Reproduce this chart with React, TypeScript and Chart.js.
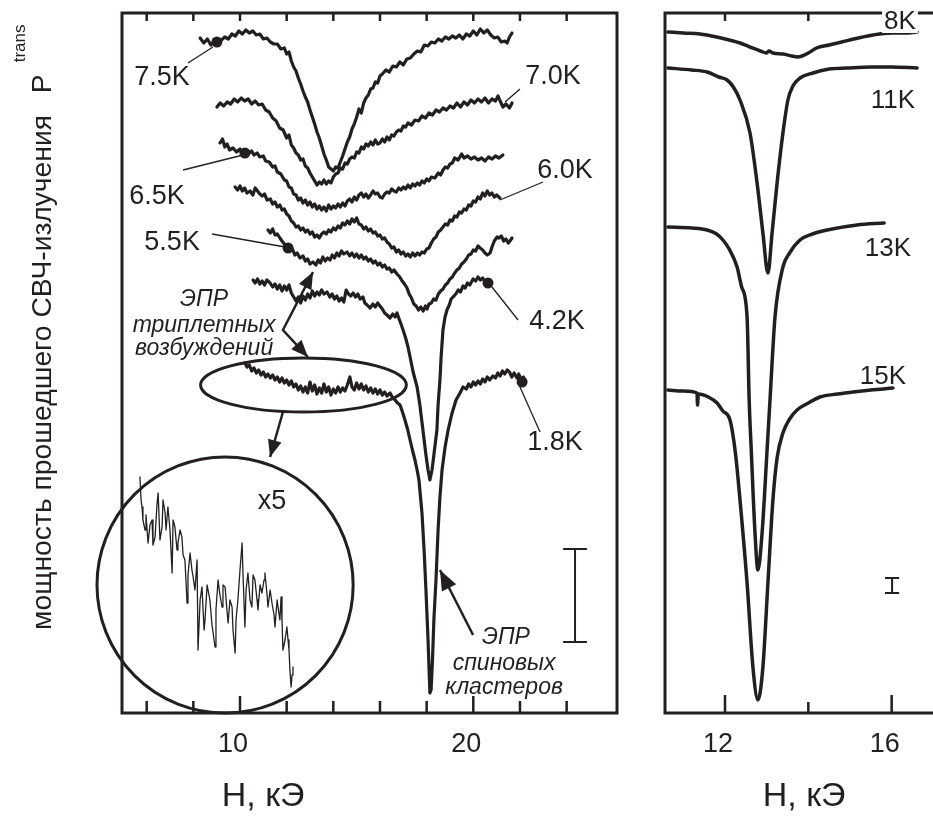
import React, { useEffect, useRef } from "react";
import { Chart, registerables } from "chart.js";
Chart.register(...registerables);

const FONT = '"Liberation Sans", Arial, Helvetica, sans-serif';
const INK = "#231f20";

// ---------- left panel: field H (kOe) vs transmitted power (arb. units) ----------
const T75 = [[8.29,67.5],[8.45,67.0],[8.6,67.4],[8.75,66.8],[8.9,67.2],[9.05,66.9],[9.2,67.3],[9.35,67.6],[9.5,67.4],[9.65,67.9],[9.8,67.7],[9.95,68.2],[10.1,67.9],[10.25,68.3],[10.4,68.0],[10.55,68.2],[10.7,67.8],[10.85,67.9],[11.0,67.4],[11.15,67.5],[11.3,67.1],[11.45,66.9],[11.6,66.9],[11.75,66.4],[11.9,66.5],[12.0,65.9],[12.1,66.1],[12.2,65.2],[12.3,64.6],[12.4,64.2],[12.5,63.5],[12.6,62.9],[12.7,62.2],[12.8,61.6],[12.9,61.1],[13.0,60.3],[13.1,59.6],[13.2,58.9],[13.3,58.1],[13.4,57.5],[13.5,56.7],[13.6,55.9],[13.7,55.3],[13.8,54.6],[13.9,54.4],[14.0,54.2],[14.1,54.6],[14.2,54.5],[14.3,55.1],[14.4,55.7],[14.5,56.4],[14.6,57.1],[14.7,57.6],[14.8,58.4],[14.9,58.9],[15.0,59.6],[15.1,60.4],[15.2,60.0],[15.3,61.0],[15.4,61.5],[15.5,61.8],[15.6,62.4],[15.7,62.5],[15.8,63.1],[15.9,63.0],[16.0,63.7],[16.1,63.9],[16.25,64.3],[16.4,64.1],[16.55,64.7],[16.7,64.6],[16.85,65.1],[17.0,64.8],[17.15,65.4],[17.3,65.5],[17.45,65.9],[17.6,66.2],[17.75,66.1],[17.9,66.8],[18.05,66.7],[18.2,67.1],[18.35,67.0],[18.5,67.4],[18.65,67.2],[18.8,67.6],[18.95,67.4],[19.1,67.7],[19.25,67.5],[19.4,67.8],[19.55,67.4],[19.7,67.9],[19.85,67.7],[20.0,68.2],[20.15,67.8],[20.3,68.4],[20.45,68.0],[20.6,68.3],[20.75,67.8],[20.9,67.5],[21.05,67.6],[21.2,67.1],[21.35,67.2],[21.45,67.0],[21.55,67.6],[21.66,68.0]];

const T70 = [[9.01,60.6],[9.15,61.0],[9.3,60.7],[9.45,61.1],[9.6,60.9],[9.75,61.4],[9.9,61.1],[10.05,61.5],[10.2,61.2],[10.35,61.4],[10.5,60.9],[10.65,61.2],[10.8,60.8],[10.95,60.9],[11.1,60.3],[11.25,60.1],[11.4,59.5],[11.55,59.2],[11.7,58.5],[11.85,58.3],[12.0,57.5],[12.1,57.8],[12.2,56.8],[12.3,56.5],[12.4,56.0],[12.5,55.8],[12.6,55.3],[12.7,55.4],[12.8,54.7],[12.9,54.5],[13.0,54.0],[13.1,53.6],[13.2,53.2],[13.3,52.8],[13.4,53.1],[13.5,52.9],[13.6,53.3],[13.7,52.9],[13.8,53.2],[13.9,53.0],[14.0,53.6],[14.1,53.9],[14.2,54.0],[14.3,54.5],[14.4,54.4],[14.5,55.0],[14.6,54.9],[14.7,55.4],[14.8,55.6],[14.9,55.5],[15.0,56.1],[15.1,56.0],[15.2,56.6],[15.3,56.4],[15.4,56.9],[15.5,56.7],[15.6,57.1],[15.7,56.8],[15.8,57.3],[15.9,56.9],[16.0,57.0],[16.1,57.4],[16.2,57.1],[16.3,57.6],[16.4,57.3],[16.5,57.8],[16.6,57.7],[16.7,58.1],[16.8,58.3],[16.9,58.2],[17.0,58.7],[17.1,58.6],[17.2,59.0],[17.35,58.8],[17.5,59.3],[17.65,59.2],[17.8,59.7],[17.95,59.5],[18.1,60.0],[18.25,59.8],[18.4,60.3],[18.55,60.1],[18.7,60.5],[18.85,60.3],[19.0,60.7],[19.15,60.5],[19.3,61.0],[19.45,60.6],[19.6,61.1],[19.75,60.8],[19.9,61.3],[20.05,61.0],[20.2,61.4],[20.35,61.1],[20.5,61.5],[20.65,61.0],[20.8,61.4],[20.95,61.2],[21.06,61.7],[21.15,61.2],[21.27,60.6],[21.4,60.9],[21.55,60.5],[21.66,61.0]];

const T65 = [[9.14,57.0],[9.25,57.4],[9.35,56.6],[9.45,56.9],[9.55,56.3],[9.7,56.5],[9.85,56.1],[10.0,56.4],[10.1,55.8],[10.21,56.2],[10.35,55.9],[10.5,56.2],[10.6,55.8],[10.73,56.0],[10.85,55.6],[11.0,55.7],[11.1,55.2],[11.25,55.1],[11.4,54.6],[11.5,54.7],[11.6,54.1],[11.75,53.9],[11.9,53.3],[12.0,53.2],[12.1,52.6],[12.2,52.5],[12.3,51.9],[12.4,51.8],[12.5,51.3],[12.6,51.5],[12.7,51.0],[12.8,51.3],[12.9,50.8],[13.0,51.1],[13.1,50.6],[13.2,50.9],[13.3,50.4],[13.4,50.7],[13.5,50.3],[13.6,50.6],[13.7,50.2],[13.8,50.8],[13.9,50.4],[14.0,50.7],[14.1,50.5],[14.2,50.9],[14.3,50.6],[14.4,51.0],[14.5,50.7],[14.6,51.2],[14.7,51.4],[14.8,51.1],[14.9,51.6],[15.0,51.3],[15.1,51.8],[15.2,52.0],[15.3,51.6],[15.4,51.9],[15.5,51.5],[15.6,51.8],[15.7,52.2],[15.8,51.9],[15.9,52.0],[16.0,51.6],[16.1,51.5],[16.2,51.9],[16.3,52.1],[16.4,52.0],[16.5,52.4],[16.6,52.2],[16.7,52.1],[16.8,52.5],[16.9,52.3],[17.0,52.6],[17.1,52.4],[17.2,52.8],[17.3,52.5],[17.4,52.9],[17.5,52.7],[17.6,53.0],[17.7,52.8],[17.8,53.2],[17.9,53.0],[18.0,53.4],[18.1,53.2],[18.2,53.6],[18.35,53.5],[18.5,54.0],[18.6,53.8],[18.7,54.3],[18.8,54.6],[18.9,54.5],[19.0,54.9],[19.1,55.0],[19.2,55.5],[19.35,55.3],[19.5,55.9],[19.6,55.5],[19.75,55.7],[19.9,55.4],[20.05,55.6],[20.2,55.3],[20.35,55.5],[20.5,55.2],[20.65,55.6],[20.8,55.4],[20.95,55.7],[21.1,55.5],[21.27,55.8]];

const T60 = [[9.79,52.6],[9.9,52.3],[10.0,52.7],[10.1,52.2],[10.2,52.5],[10.3,52.0],[10.43,52.2],[10.55,51.8],[10.65,52.5],[10.75,52.2],[10.85,51.9],[10.95,51.7],[11.05,51.9],[11.16,51.3],[11.3,51.4],[11.4,50.9],[11.5,51.1],[11.6,50.6],[11.71,50.8],[11.8,50.3],[11.9,50.4],[12.0,49.9],[12.1,49.7],[12.2,49.2],[12.3,49.0],[12.4,48.6],[12.5,48.7],[12.6,48.3],[12.7,48.5],[12.8,48.1],[12.9,48.3],[13.0,47.9],[13.1,48.1],[13.2,47.6],[13.3,47.8],[13.4,47.5],[13.5,47.9],[13.6,48.1],[13.7,47.9],[13.8,48.3],[13.9,48.1],[14.0,48.5],[14.1,48.3],[14.2,48.7],[14.3,48.5],[14.4,49.0],[14.5,48.8],[14.6,49.2],[14.7,48.9],[14.8,49.4],[14.9,49.1],[15.0,49.5],[15.1,48.9],[15.2,48.8],[15.3,48.4],[15.4,48.6],[15.5,48.2],[15.6,48.4],[15.7,48.0],[15.8,48.1],[15.9,47.7],[16.0,47.8],[16.1,47.4],[16.2,47.5],[16.3,47.1],[16.4,46.9],[16.5,46.5],[16.6,46.6],[16.7,46.1],[16.8,46.3],[16.9,45.9],[17.0,46.1],[17.1,45.7],[17.2,45.9],[17.3,45.6],[17.4,46.0],[17.5,45.7],[17.6,46.0],[17.7,45.8],[17.8,46.1],[17.9,46.0],[18.0,46.4],[18.1,46.5],[18.2,47.0],[18.3,47.4],[18.4,47.6],[18.5,48.1],[18.6,48.3],[18.7,48.6],[18.8,48.9],[18.9,48.8],[19.0,49.3],[19.1,49.2],[19.2,49.7],[19.3,49.6],[19.4,50.1],[19.5,50.0],[19.6,50.4],[19.7,50.3],[19.8,50.8],[19.9,50.7],[20.0,51.2],[20.1,51.1],[20.2,51.6],[20.3,51.4],[20.4,52.0],[20.5,51.7],[20.6,52.2],[20.7,51.8],[20.8,52.0],[20.9,51.6],[21.0,51.8],[21.14,51.5]];

const T55 = [[11.2,48.3],[11.3,48.0],[11.4,48.4],[11.5,47.8],[11.6,47.9],[11.71,47.5],[11.8,47.2],[11.9,46.9],[12.0,46.6],[12.06,46.5],[12.15,46.2],[12.25,46.4],[12.35,45.8],[12.45,46.0],[12.57,45.5],[12.7,45.7],[12.8,45.2],[12.9,45.4],[13.0,44.9],[13.13,45.1],[13.25,44.8],[13.35,45.3],[13.45,45.0],[13.55,45.6],[13.65,45.2],[13.75,45.5],[13.86,45.3],[13.95,45.8],[14.05,45.5],[14.15,46.0],[14.25,45.7],[14.35,46.2],[14.45,45.9],[14.59,46.1],[14.7,45.7],[14.8,46.0],[14.9,45.6],[15.0,45.9],[15.1,45.5],[15.2,45.8],[15.3,45.4],[15.4,45.6],[15.5,45.2],[15.6,45.4],[15.7,45.0],[15.8,45.2],[15.9,44.8],[16.0,45.0],[16.1,44.6],[16.2,44.8],[16.3,44.4],[16.4,44.5],[16.5,44.1],[16.6,44.3],[16.73,43.9],[16.85,43.6],[16.95,43.2],[17.05,42.9],[17.16,42.5],[17.25,41.9],[17.35,41.5],[17.45,40.9],[17.55,40.7],[17.65,40.3],[17.75,40.6],[17.85,40.2],[17.95,40.7],[18.02,40.4],[18.1,40.9],[18.2,41.0],[18.3,41.4],[18.4,41.3],[18.5,41.9],[18.6,42.2],[18.7,42.4],[18.8,42.8],[18.9,43.0],[19.0,43.4],[19.1,43.6],[19.2,44.0],[19.3,44.3],[19.4,44.5],[19.5,44.9],[19.6,45.1],[19.7,45.4],[19.8,45.8],[19.9,45.9],[20.0,46.3],[20.1,46.2],[20.2,46.7],[20.29,46.5],[20.4,46.3],[20.5,46.0],[20.6,45.8],[20.72,46.0],[20.8,46.6],[20.9,47.2],[21.02,47.6],[21.1,47.5],[21.2,47.7],[21.3,47.2],[21.4,47.4],[21.5,47.0],[21.57,47.2],[21.66,47.5]];

const T42 = [[10.56,43.3],[10.65,43.0],[10.75,43.4],[10.85,42.9],[10.95,43.2],[11.05,42.8],[11.15,43.3],[11.29,43.0],[11.4,42.6],[11.5,42.9],[11.6,42.4],[11.7,42.8],[11.8,42.2],[11.9,42.7],[12.0,42.3],[12.1,42.8],[12.2,42.0],[12.3,41.6],[12.4,41.2],[12.5,41.6],[12.6,41.0],[12.7,41.7],[12.8,41.3],[12.9,41.9],[13.0,41.5],[13.1,42.2],[13.2,41.7],[13.3,42.1],[13.4,41.8],[13.5,42.3],[13.6,41.9],[13.73,42.1],[13.85,41.6],[13.95,41.9],[14.05,41.4],[14.15,41.7],[14.25,41.2],[14.35,41.5],[14.45,41.1],[14.55,42.3],[14.65,41.9],[14.75,41.7],[14.85,42.0],[14.95,41.6],[15.05,41.9],[15.15,41.4],[15.27,41.6],[15.35,41.0],[15.45,40.8],[15.57,40.5],[15.7,40.9],[15.8,40.6],[15.9,41.0],[16.0,40.7],[16.1,40.4],[16.2,40.0],[16.3,39.8],[16.43,39.5],[16.55,39.9],[16.65,39.6],[16.73,40.0],[16.82,39.4],[16.9,38.9],[16.99,38.3],[17.1,37.5],[17.2,36.6],[17.29,35.6],[17.42,34.1],[17.59,32.6],[17.71,30.8],[17.84,28.3],[17.97,25.8],[18.06,24.3],[18.14,23.3],[18.23,24.3],[18.31,25.8],[18.44,28.3],[18.49,30.8],[18.57,33.3],[18.62,35.6],[18.7,38.3],[18.78,39.5],[18.87,40.3],[18.97,40.8],[19.05,41.4],[19.13,41.6],[19.25,41.9],[19.35,42.3],[19.45,42.1],[19.56,42.7],[19.65,42.5],[19.75,43.0],[19.85,42.8],[19.99,43.4],[20.1,43.2],[20.2,43.6],[20.3,43.3],[20.4,43.5],[20.5,43.1],[20.59,43.0]];

const T18 = [[10.21,35.0],[10.3,34.6],[10.4,34.8],[10.5,34.2],[10.6,34.5],[10.7,34.0],[10.8,34.3],[10.9,33.8],[11.0,34.1],[11.1,33.6],[11.2,33.9],[11.3,33.5],[11.4,33.8],[11.5,33.3],[11.6,33.6],[11.7,33.1],[11.8,33.5],[11.9,33.0],[12.0,33.3],[12.1,32.8],[12.2,33.2],[12.3,32.6],[12.4,32.9],[12.5,32.3],[12.6,32.7],[12.7,32.1],[12.8,32.6],[12.9,32.0],[13.0,33.1],[13.1,32.2],[13.2,32.8],[13.3,31.9],[13.4,32.5],[13.5,32.0],[13.6,32.9],[13.7,32.1],[13.8,32.6],[13.9,31.8],[14.0,32.4],[14.1,32.0],[14.2,32.6],[14.3,32.1],[14.4,32.5],[14.5,32.2],[14.6,32.8],[14.71,33.6],[14.8,32.6],[14.9,32.3],[15.0,33.0],[15.1,32.4],[15.2,32.9],[15.3,32.3],[15.4,32.7],[15.5,32.1],[15.6,32.5],[15.7,32.0],[15.8,32.4],[15.9,31.9],[16.0,32.3],[16.1,31.8],[16.2,32.1],[16.3,31.7],[16.43,32.0],[16.55,31.5],[16.65,31.3],[16.75,31.0],[16.86,30.8],[16.95,30.2],[17.07,29.3],[17.18,28.4],[17.29,27.3],[17.4,26.2],[17.5,25.3],[17.6,24.2],[17.67,23.3],[17.8,20.0],[17.89,16.3],[17.97,12.3],[18.06,7.3],[18.12,3.3],[18.14,2.0],[18.19,2.3],[18.25,5.3],[18.31,9.3],[18.4,13.3],[18.49,18.3],[18.57,21.6],[18.66,24.3],[18.79,26.6],[18.92,28.3],[19.09,30.0],[19.26,31.3],[19.43,32.0],[19.56,32.6],[19.7,32.4],[19.8,32.9],[19.9,32.6],[20.0,33.1],[20.1,32.8],[20.2,33.2],[20.3,32.9],[20.4,33.4],[20.5,33.1],[20.6,33.6],[20.7,33.3],[20.84,33.7],[20.95,33.5],[21.05,34.0],[21.15,33.7],[21.25,34.2],[21.35,33.9],[21.45,34.3],[21.55,34.1],[21.65,33.6],[21.75,34.0],[21.87,33.5],[21.95,33.9],[22.05,33.3],[22.15,33.6],[22.22,33.2]];

// x5 magnified inset of the 1.8K triplet region
const INSET = [[5.71,23.6],[5.76,21.3],[5.80,20.6],[5.84,19.3],[5.93,18.3],[5.97,19.8],[6.06,17.0],[6.14,18.8],[6.23,19.3],[6.27,16.8],[6.36,17.6],[6.44,20.8],[6.49,22.0],[6.57,17.3],[6.66,18.6],[6.70,21.3],[6.79,20.0],[6.83,18.3],[6.91,20.6],[7.00,18.3],[7.09,14.0],[7.13,19.3],[7.21,18.6],[7.30,16.3],[7.34,17.0],[7.43,18.3],[7.51,17.6],[7.56,15.8],[7.64,15.3],[7.73,11.0],[7.77,13.8],[7.86,16.0],[7.94,14.3],[7.99,13.6],[8.07,12.3],[8.16,15.3],[8.20,6.3],[8.29,11.3],[8.37,12.6],[8.46,8.3],[8.50,9.3],[8.59,12.8],[8.71,11.3],[8.80,8.8],[8.93,6.6],[8.97,10.3],[9.06,13.3],[9.14,11.8],[9.23,10.6],[9.27,12.8],[9.36,12.6],[9.44,10.3],[9.49,9.0],[9.57,11.3],[9.66,10.6],[9.70,8.3],[9.79,6.0],[9.83,9.3],[9.91,11.3],[10.0,14.3],[10.09,17.0],[10.13,13.8],[10.21,8.6],[10.26,12.3],[10.34,14.0],[10.43,11.3],[10.51,10.6],[10.56,13.8],[10.64,13.3],[10.73,11.3],[10.77,10.3],[10.86,12.8],[10.94,12.0],[11.03,13.3],[11.07,14.0],[11.16,11.8],[11.20,10.6],[11.29,12.3],[11.37,11.0],[11.46,9.8],[11.50,8.6],[11.59,11.3],[11.63,10.6],[11.71,9.3],[11.76,11.6],[11.80,9.3],[11.84,6.3],[11.93,7.3],[12.01,8.6],[12.06,7.3],[12.10,6.3],[12.14,4.3],[12.19,2.6],[12.23,3.8],[12.27,4.6]];

// marker dots on the left traces (7.5K, 6.5K, 5.5K, 4.2K, 1.8K)
const DOTS = [[9.01,67.1],[10.21,56.0],[12.06,46.5],[20.63,43.0],[22.09,33.1]];

// ---------- right panel ----------
const R8 = [[10.63,68.1],[11.0,68.0],[11.4,67.9],[11.8,67.6],[12.1,67.3],[12.36,67.0],[12.6,66.6],[12.85,66.2],[13.0,66.0],[13.05,66.2],[13.15,66.0],[13.4,65.9],[13.6,65.7],[13.75,65.6],[13.85,65.7],[14.0,66.0],[14.2,66.5],[14.5,66.8],[14.8,67.1],[15.2,67.5],[15.55,67.8],[16.0,68.0],[16.3,68.0],[16.61,68.1]];
const R11 = [[10.63,64.5],[11.2,64.3],[11.57,64.1],[11.85,63.6],[12.05,63.3],[12.2,62.6],[12.36,61.3],[12.6,58.0],[12.77,53.0],[12.91,48.0],[13.03,44.0],[13.13,48.0],[13.25,53.0],[13.39,58.0],[13.51,61.3],[13.63,62.7],[13.8,63.5],[14.11,64.0],[14.5,64.4],[14.93,64.5],[15.5,64.6],[16.0,64.6],[16.61,64.5]];
const R13 = [[10.63,48.6],[11.2,48.5],[11.57,48.3],[11.8,47.9],[11.95,47.3],[12.1,46.4],[12.29,44.6],[12.4,42.6],[12.53,39.6],[12.58,31.3],[12.63,26.3],[12.72,18.0],[12.79,14.3],[12.89,18.0],[13.01,26.3],[13.08,31.3],[13.2,39.6],[13.39,44.6],[13.55,46.0],[13.8,47.3],[14.1,47.9],[14.45,48.3],[15.17,48.8],[15.82,49.0]];
const R15 = [[10.63,32.3],[11.0,32.2],[11.33,32.0],[11.34,30.8],[11.36,31.9],[11.6,31.6],[11.81,31.0],[11.95,30.2],[12.12,29.3],[12.25,26.0],[12.36,21.3],[12.53,13.0],[12.67,4.6],[12.79,1.3],[12.91,4.6],[13.03,13.0],[13.15,21.3],[13.25,25.5],[13.39,28.0],[13.55,29.4],[13.73,30.3],[14.0,31.0],[14.28,31.6],[14.7,31.9],[15.07,32.1],[15.5,32.3],[16.03,32.5]];

// ---------- axes ----------
const LEFT_TICKS = [6, 8, 10, 12, 14, 16, 18, 20, 22, 24];
const LEFT_TICK_LABELS = [10, 20];
const RIGHT_TICKS = [12, 14, 16];
const RIGHT_TICK_LABELS = [12, 16];
const X_TITLE = "H, кЭ";
const Y_TITLE = "мощность прошедшего СВЧ-излучения";

// ---------- annotations (data coordinates) ----------
const LEFT_LABELS = [
  { t: "7.5K", x: 6.66, y: 63.5 }, { t: "7.0K", x: 23.42, y: 63.6 },
  { t: "6.5K", x: 6.44, y: 51.6 }, { t: "6.0K", x: 23.93, y: 54.2 },
  { t: "5.5K", x: 7.09, y: 47.0 }, { t: "4.2K", x: 23.59, y: 39.1 },
  { t: "1.8K", x: 23.5, y: 27.0 }, { t: "x5", x: 11.37, y: 21.1 },
];
const LEFT_POINTERS = [
  [7.77, 65.0, 8.84, 66.6], [21.36, 61.1, 22.0, 62.4], [7.56, 54.3, 10.13, 55.8],
  [21.14, 51.3, 22.99, 53.1], [8.8, 47.9, 11.93, 46.6], [20.8, 42.6, 21.92, 39.3],
  [22.0, 32.6, 22.86, 28.1],
];
const TRIPLET_TEXT = [
  { t: "ЭПР", x: 8.46, y: 41.3 }, { t: "триплетных", x: 8.46, y: 38.7 }, { t: "возбуждений", x: 8.46, y: 36.4 },
];
const SPIN_TEXT = [
  { t: "ЭПР", x: 21.4, y: 7.5 }, { t: "спиновых", x: 21.32, y: 4.9 }, { t: "кластеров", x: 21.32, y: 2.5 },
];
const RIGHT_LABELS = [
  { t: "8K", x: 16.2, y: 69.1, bg: true }, { t: "11K", x: 16.03, y: 61.2 },
  { t: "13K", x: 15.91, y: 46.4 }, { t: "15K", x: 15.79, y: 33.6 },
];

const toXY = (arr: number[][]) => arr.map(([x, y]) => ({ x, y }));

function arrowHead(ctx: any, fx: number, fy: number, tx: number, ty: number, len = 16, wid = 6) {
  const a = Math.atan2(ty - fy, tx - fx);
  ctx.beginPath();
  ctx.moveTo(tx, ty);
  ctx.lineTo(tx - len * Math.cos(a) + wid * Math.sin(a), ty - len * Math.sin(a) - wid * Math.cos(a));
  ctx.lineTo(tx - len * Math.cos(a) - wid * Math.sin(a), ty - len * Math.sin(a) + wid * Math.cos(a));
  ctx.closePath();
  ctx.fill();
}

function drawFrameAndTicks(chart: any, cfg: any) {
  const { ctx, chartArea: a } = chart;
  const sx = chart.scales.x;
  ctx.save();
  ctx.strokeStyle = INK;
  ctx.lineWidth = 3;
  ctx.lineCap = "square";
  ctx.beginPath();
  if (cfg.full) {
    ctx.rect(a.left, a.top, a.right - a.left, a.bottom - a.top);
  } else {
    ctx.moveTo(a.right + 40, a.top);
    ctx.lineTo(a.left, a.top);
    ctx.lineTo(a.left, a.bottom);
    ctx.lineTo(a.right + 40, a.bottom);
  }
  ctx.stroke();
  ctx.lineWidth = 2.5;
  ctx.lineCap = "butt";
  for (const t of sx.ticks) {
    const px = sx.getPixelForValue(t.value);
    const major = cfg.major.includes(t.value);
    ctx.beginPath();
    ctx.moveTo(px, a.bottom);
    ctx.lineTo(px, a.bottom - (major ? cfg.majorLen : cfg.minorLen));
    ctx.moveTo(px, a.top);
    ctx.lineTo(px, a.top + cfg.topLen);
    ctx.stroke();
  }
  ctx.restore();
}

function text(ctx: any, s: string, x: number, y: number, font: string) {
  ctx.font = font;
  ctx.textAlign = "center";
  ctx.textBaseline = "middle";
  ctx.fillText(s, x, y);
}

const leftPlugin = {
  id: "leftDecor",
  afterDatasetsDraw(chart: any) {
    const { ctx, chartArea: a } = chart;
    const X = (v: number) => chart.scales.x.getPixelForValue(v);
    const Y = (v: number) => chart.scales.y.getPixelForValue(v);
    drawFrameAndTicks(chart, { full: true, major: LEFT_TICK_LABELS, majorLen: 17, minorLen: 12, topLen: 8 });
    ctx.save();
    ctx.fillStyle = INK;
    ctx.strokeStyle = INK;
    // pointer lines
    ctx.lineWidth = 1.3;
    for (const [x1, y1, x2, y2] of LEFT_POINTERS) {
      ctx.beginPath(); ctx.moveTo(X(x1), Y(y1)); ctx.lineTo(X(x2), Y(y2)); ctx.stroke();
    }
    for (const l of LEFT_LABELS) text(ctx, l.t, X(l.x), Y(l.y), `27px ${FONT}`);
    for (const l of TRIPLET_TEXT) text(ctx, l.t, X(l.x), Y(l.y), `italic 23px ${FONT}`);
    for (const l of SPIN_TEXT) text(ctx, l.t, X(l.x), Y(l.y), `italic 23px ${FONT}`);
    // V-shaped double arrow
    ctx.lineWidth = 2.5;
    const vx = X(11.84), vy = Y(38.3), t1x = X(13.13), t1y = Y(44.1), t2x = X(12.91), t2y = Y(35.6);
    ctx.beginPath(); ctx.moveTo(t1x, t1y); ctx.lineTo(vx, vy); ctx.lineTo(t2x, t2y); ctx.stroke();
    arrowHead(ctx, vx, vy, t1x, t1y, 17, 7);
    arrowHead(ctx, vx, vy, t2x, t2y, 17, 7);
    // ellipse around triplet region
    ctx.lineWidth = 3;
    ctx.beginPath();
    ctx.ellipse(X(12.72), Y(32.8), X(12.72 + 4.41) - X(12.72), Y(32.8) - Y(32.8 + 2.7), 0, 0, Math.PI * 2);
    ctx.stroke();
    // arrow to magnified circle
    ctx.lineWidth = 2.5;
    const ax1 = X(11.84), ay1 = Y(30.1), ax2 = X(11.29), ay2 = Y(25.6);
    ctx.beginPath(); ctx.moveTo(ax1, ay1); ctx.lineTo(ax2, ay2); ctx.stroke();
    arrowHead(ctx, ax1, ay1, ax2, ay2, 17, 7);
    // circle
    ctx.lineWidth = 3;
    ctx.beginPath();
    ctx.arc(X(9.36), Y(12.8), X(9.36 + 5.49) - X(9.36), 0, Math.PI * 2);
    ctx.stroke();
    // arrow to spin-cluster peak
    ctx.lineWidth = 2.5;
    const bx1 = X(19.99), by1 = Y(7.8), bx2 = X(18.57), by2 = Y(14.3);
    ctx.beginPath(); ctx.moveTo(bx1, by1); ctx.lineTo(bx2, by2); ctx.stroke();
    arrowHead(ctx, bx1, by1, bx2, by2, 20, 8);
    // scale bar
    ctx.lineWidth = 2;
    const sbx = X(24.36), sh = X(24.36 + 0.51) - sbx, st = Y(16.4), sb = Y(7.1);
    ctx.beginPath();
    ctx.moveTo(sbx, st); ctx.lineTo(sbx, sb);
    ctx.moveTo(sbx - sh, st); ctx.lineTo(sbx + sh, st);
    ctx.moveTo(sbx - sh, sb); ctx.lineTo(sbx + sh, sb);
    ctx.stroke();
    // axis titles
    text(ctx, X_TITLE, X(10.99), a.bottom + 84, `34px ${FONT}`);
    ctx.save();
    ctx.translate(a.left - 71, a.bottom - 83);
    ctx.rotate(-Math.PI / 2);
    ctx.textAlign = "left";
    ctx.textBaseline = "alphabetic";
    ctx.font = `28.3px ${FONT}`;
    ctx.fillText(Y_TITLE, 0, 0);
    const w = ctx.measureText(Y_TITLE + "  ").width;
    ctx.fillText("P", w + 6, 0);
    const wp = ctx.measureText("P").width;
    ctx.font = `17px ${FONT}`;
    ctx.fillText("trans", w + 6 + wp + 12, -26);
    ctx.restore();
    ctx.restore();
  },
};

const rightPlugin = {
  id: "rightDecor",
  afterDatasetsDraw(chart: any) {
    const { ctx, chartArea: a } = chart;
    const X = (v: number) => chart.scales.x.getPixelForValue(v);
    const Y = (v: number) => chart.scales.y.getPixelForValue(v);
    drawFrameAndTicks(chart, { full: false, major: RIGHT_TICK_LABELS, majorLen: 18, minorLen: 11, topLen: 8 });
    ctx.save();
    ctx.fillStyle = INK;
    ctx.strokeStyle = INK;
    for (const l of RIGHT_LABELS) {
      ctx.font = `26px ${FONT}`;
      if (l.bg) {
        const w = ctx.measureText(l.t).width;
        ctx.fillStyle = "#fff";
        ctx.fillRect(X(l.x) - w / 2 - 2, Y(l.y) - 11, w + 4, 22);
        ctx.fillStyle = INK;
      }
      text(ctx, l.t, X(l.x), Y(l.y), `26px ${FONT}`);
    }
    // small scale bar
    ctx.lineWidth = 2;
    const sbx = X(16.01), sh = X(16.01 + 0.17) - sbx, st = Y(13.5), sb = Y(12.0);
    ctx.beginPath();
    ctx.moveTo(sbx, st); ctx.lineTo(sbx, sb);
    ctx.moveTo(sbx - sh, st); ctx.lineTo(sbx + sh, st);
    ctx.moveTo(sbx - sh, sb); ctx.lineTo(sbx + sh, sb);
    ctx.stroke();
    text(ctx, X_TITLE, X(13.9), a.bottom + 84, `34px ${FONT}`);
    ctx.restore();
  },
};

const traceDs = (data: number[][], width: number, smooth = false) => ({
  data: toXY(data),
  borderColor: INK,
  borderWidth: width,
  pointRadius: 0,
  fill: false,
  borderJoinStyle: "round",
  borderCapStyle: "round",
  cubicInterpolationMode: smooth ? "monotone" : "default",
  tension: 0,
});

function xScale(min: number, max: number, ticks: number[], labels: number[]) {
  return {
    type: "linear",
    min,
    max,
    position: "bottom",
    grid: { display: false, drawTicks: false },
    border: { display: false },
    afterBuildTicks: (s: any) => { s.ticks = ticks.map((v) => ({ value: v })); },
    afterFit: (s: any) => { s.height = 103; },
    ticks: {
      autoSkip: false,
      maxRotation: 0,
      padding: 15,
      labelOffset: -7,
      color: INK,
      font: { family: FONT, size: 27 },
      callback: (v: any) => (labels.includes(Number(v)) ? String(v) : ""),
    },
  };
}

export default function App() {
  const leftRef = useRef<HTMLCanvasElement>(null);
  const rightRef = useRef<HTMLCanvasElement>(null);

  useEffect(() => {
    const common = {
      animation: false,
      responsive: false,
      maintainAspectRatio: false,
      plugins: { legend: { display: false }, tooltip: { enabled: false } },
    };
    const c1 = new Chart(leftRef.current as HTMLCanvasElement, {
      type: "line",
      data: {
        datasets: [
          traceDs(T75, 3.2), traceDs(T70, 3.2), traceDs(T65, 3.2), traceDs(T60, 3.2),
          traceDs(T55, 3.2), traceDs(T42, 3.2), traceDs(T18, 3.2), traceDs(INSET, 1.3),
          { data: toXY(DOTS), showLine: false, pointRadius: 5.5, pointBackgroundColor: INK, pointBorderWidth: 0, borderColor: INK },
        ] as any,
      },
      options: {
        ...common,
        layout: { padding: { left: 122, top: 13, right: 23, bottom: 0 } },
        scales: {
          x: xScale(4.942, 26.159, LEFT_TICKS, LEFT_TICK_LABELS) as any,
          y: { type: "linear", min: 0, max: 70, display: false },
        },
      } as any,
      plugins: [leftPlugin],
    });
    const c2 = new Chart(rightRef.current as HTMLCanvasElement, {
      type: "line",
      data: {
        datasets: [traceDs(R8, 3.5, true), traceDs(R11, 3.5, true), traceDs(R13, 3.5, true), traceDs(R15, 3.5, true)] as any,
      },
      options: {
        ...common,
        layout: { padding: { left: 25, top: 13, right: 20, bottom: 0 } },
        scales: {
          x: xScale(10.56, 17.64, RIGHT_TICKS, RIGHT_TICK_LABELS) as any,
          y: { type: "linear", min: 0, max: 70, display: false },
        },
      } as any,
      plugins: [rightPlugin],
    });
    return () => { c1.destroy(); c2.destroy(); };
  }, []);

  return (
    <div style={{ position: "absolute", left: 0, top: 0, width: 933, height: 816, overflow: "hidden", background: "#fff" }}>
      <canvas ref={leftRef} width={640} height={816} style={{ position: "absolute", left: 0, top: 0, width: 640, height: 816 }} />
      <canvas ref={rightRef} width={340} height={816} style={{ position: "absolute", left: 640, top: 0, width: 340, height: 816 }} />
    </div>
  );
}
